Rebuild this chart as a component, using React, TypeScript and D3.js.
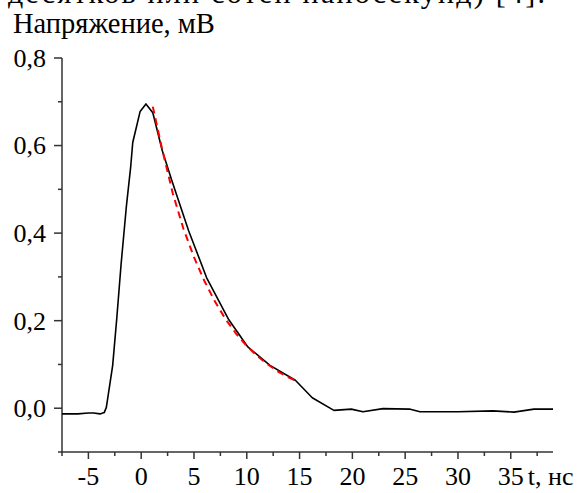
import React from "react";
import * as d3 from "d3";

const measuredT = [-7.5, -6, -5, -4.5, -3.9, -3.5, -3.3, -3.1, -2.7, -2.3, -1.9, -1.4, -1.0, -0.8, -0.1, 0.45, 1.1, 2.0, 2.9, 4.5, 6.2, 8.3, 10.1, 12.2, 14.6, 16.2, 18.25, 19.9, 21, 22.9, 25.4, 26.4, 30, 33.3, 35.3, 37.2, 39];
const measuredV = [-0.013, -0.013, -0.011, -0.011, -0.013, -0.01, 0.002, 0.034, 0.098, 0.209, 0.33, 0.462, 0.55, 0.607, 0.678, 0.695, 0.675, 0.588, 0.52, 0.405, 0.298, 0.202, 0.14, 0.098, 0.064, 0.024, -0.005, -0.002, -0.008, -0.001, -0.002, -0.008, -0.008, -0.006, -0.009, -0.002, -0.002];

const fitT = [1.1, 2, 3, 4, 5, 6, 7, 8, 9, 10, 11, 12, 13, 14, 14.9];
const fitV = [0.689, 0.59, 0.49, 0.41, 0.345, 0.29, 0.243, 0.203, 0.17, 0.142, 0.119, 0.1, 0.083, 0.07, 0.06];

const xMajorTicks = [-5, 0, 5, 10, 15, 20, 25, 30, 35];
const xMinorTicks = [-7.5, -2.5, 2.5, 7.5, 12.5, 17.5, 22.5, 27.5, 32.5, 37.5];
const yMajorTicks = [0, 0.2, 0.4, 0.6, 0.8];
const yMinorTicks = [-0.1, 0.1, 0.3, 0.5, 0.7];

const yTitle = "Напряжение, мВ";
const xTitle = "t, нс";
const topFragment = "десятков или сотен наносекунд) [4].";

export default function App() {
  const W = 587, H = 493;
  const x = d3.scaleLinear().domain([-7.5, 39]).range([62, 553]);
  const y = d3.scaleLinear().domain([-0.1, 0.8]).range([452, 58]);
  const fmt = (v: number) => v.toFixed(1).replace(".", ",");
  const line = d3.line<[number, number]>().x(d => x(d[0])).y(d => y(d[1]));
  const measured = line(measuredT.map((t, i) => [t, measuredV[i]] as [number, number])) || "";
  const fit = line(fitT.map((t, i) => [t, fitV[i]] as [number, number])) || "";
  const F = "Liberation Serif";
  const axisColor = "#333";
  return (
    <svg width={W} height={H} style={{ position: "absolute", left: 0, top: 0, background: "#fff" }}>
      <text x={8} y={3} fontFamily={F} fontSize={30} fill="#000" textLength={537} lengthAdjust="spacing">{topFragment}</text>
      <text x={13} y={33} fontFamily={F} fontSize={28.5} fill="#000">{yTitle}</text>
      <line x1={x(-7.5)} x2={x(-7.5)} y1={y(0.8)} y2={y(-0.1)} stroke={axisColor} strokeWidth={1.5} />
      <line x1={x(-7.5)} x2={x(39)} y1={y(-0.1)} y2={y(-0.1)} stroke={axisColor} strokeWidth={1.5} />
      {yMajorTicks.map(v => (
        <g key={"ym" + v}>
          <line x1={x(-7.5) - 8} x2={x(-7.5)} y1={y(v)} y2={y(v)} stroke={axisColor} strokeWidth={1.5} />
          <text x={x(-7.5) - 16} y={y(v)} dy="0.34em" fontFamily={F} fontSize={26} textAnchor="end" fill="#000">{fmt(v)}</text>
        </g>
      ))}
      {yMinorTicks.map(v => (
        <line key={"yn" + v} x1={x(-7.5) - 4} x2={x(-7.5)} y1={y(v)} y2={y(v)} stroke={axisColor} strokeWidth={1.5} />
      ))}
      {xMajorTicks.map(v => (
        <g key={"xm" + v}>
          <line x1={x(v)} x2={x(v)} y1={y(-0.1)} y2={y(-0.1) + 7} stroke={axisColor} strokeWidth={1.5} />
          <text x={x(v)} y={485} fontFamily={F} fontSize={26} textAnchor="middle" fill="#000">{v < 0 ? "-" + Math.abs(v) : String(v)}</text>
        </g>
      ))}
      {xMinorTicks.map(v => (
        <line key={"xn" + v} x1={x(v)} x2={x(v)} y1={y(-0.1)} y2={y(-0.1) + 4} stroke={axisColor} strokeWidth={1.5} />
      ))}
      <text x={x(35) + 17} y={485} fontFamily={F} fontSize={26} fill="#000">{xTitle}</text>
      <path d={measured} fill="none" stroke="#000" strokeWidth={1.6} strokeLinejoin="round" />
      <path d={fit} fill="none" stroke="#ff0000" strokeWidth={2} strokeDasharray="7,5" />
    </svg>
  );
}
